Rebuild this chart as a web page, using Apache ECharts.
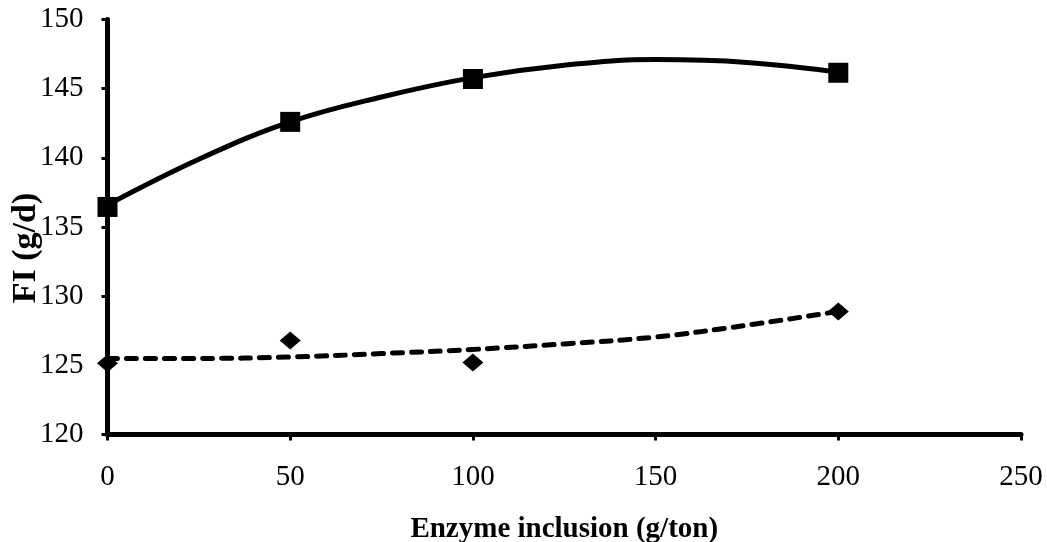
<!DOCTYPE html>
<html>
<head>
<meta charset="utf-8">
<script src="https://cdn.jsdelivr.net/npm/echarts@6/dist/echarts.min.js"></script>
<style>
  html, body { margin: 0; padding: 0; background: #fff; }
  #chart { width: 1047px; height: 542px; }
</style>
</head>
<body>
<div id="chart"></div>
<script>
// measured points (enzyme inclusion, g/ton)
const doses = [0, 50, 100, 200];
const fiSquare = [136.45, 142.6, 145.7, 146.15];
const fiDiamond = [125.15, 126.8, 125.2, 128.9];

// trend lines
const trendX = [0, 25, 50, 75, 100, 125, 150, 175, 200];
const trendSolid = [136.6, 139.9, 142.6, 144.4, 145.8, 146.7, 147.1, 146.9, 146.2];
const trendDashed = [125.5, 125.5, 125.6, 125.85, 126.15, 126.55, 127.05, 127.9, 128.9];

const xTicks = [0, 50, 100, 150, 200, 250];
const yTicks = [120, 125, 130, 135, 140, 145, 150];

const font = "'Liberation Serif', 'Times New Roman', serif";
const pairs = (xs, ys) => xs.map((x, i) => [x, ys[i]]);

const chart = echarts.init(document.getElementById("chart"));
chart.setOption({
  animation: false,
  grid: { left: 107.5, right: 26, top: 19.5, bottom: 107.5, outerBoundsMode: "none", containLabel: false },
  xAxis: {
    type: "value",
    min: xTicks[0],
    max: xTicks[xTicks.length - 1],
    interval: 50,
    name: "Enzyme inclusion (g/ton)",
    nameLocation: "middle",
    nameMoveOverlap: false,
    nameGap: 81,
    nameTextStyle: { fontFamily: font, fontSize: 29, fontWeight: "bold", color: "#000" },
    axisLine: { lineStyle: { color: "#000", width: 5 } },
    axisTick: { inside: false, length: 6, lineStyle: { color: "#000", width: 3 } },
    axisLabel: { margin: 28, fontFamily: font, fontSize: 29, color: "#000" },
    splitLine: { show: false },
  },
  yAxis: {
    type: "value",
    min: yTicks[0],
    max: yTicks[yTicks.length - 1],
    interval: 5,
    name: "FI (g/d)",
    nameLocation: "middle",
    nameMoveOverlap: false,
    nameGap: 64,
    nameTextStyle: { fontFamily: font, fontSize: 34, fontWeight: "bold", color: "#000", padding: [0, 42, 0, 0] },
    axisLine: { lineStyle: { color: "#000", width: 5 } },
    axisTick: { inside: false, length: 6, lineStyle: { color: "#000", width: 3 } },
    axisLabel: { margin: 24, fontFamily: font, fontSize: 29, color: "#000" },
    splitLine: { show: false },
  },
  series: [
    {
      type: "line",
      data: pairs(trendX, trendSolid),
      smooth: 0.4,
      showSymbol: false,
      lineStyle: { color: "#000", width: 5 },
      z: 2,
    },
    {
      type: "line",
      data: pairs(trendX, trendDashed),
      smooth: 0.4,
      showSymbol: false,
      lineStyle: { color: "#000", width: 5, type: [10, 9], cap: "round" },
      z: 2,
    },
    {
      type: "scatter",
      data: pairs(doses, fiSquare),
      symbol: "rect",
      symbolSize: 20,
      itemStyle: { color: "#000", opacity: 1 },
      z: 3,
    },
    {
      type: "scatter",
      data: pairs(doses, fiDiamond),
      symbol: "diamond",
      symbolSize: [21, 18],
      itemStyle: { color: "#000", opacity: 1 },
      z: 3,
    },
  ],
});
</script>
</body>
</html>
